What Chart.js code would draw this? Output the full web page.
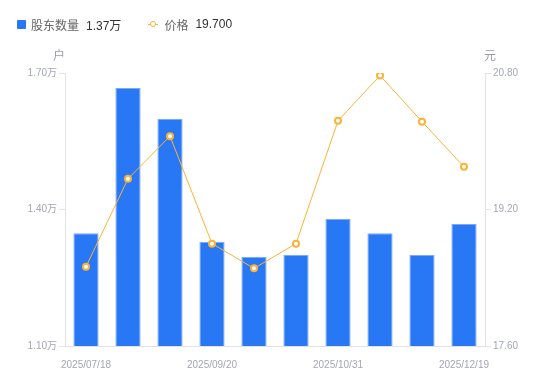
<!DOCTYPE html>
<html><head><meta charset="utf-8">
<script src="https://cdn.jsdelivr.net/npm/chart.js@4/dist/chart.umd.min.js"></script>
<style>
html,body{margin:0;padding:0;background:#fff;}
#wrap{position:relative;width:550px;height:381px;}
#legend{position:absolute;left:17px;top:16px;font:12px 'Liberation Sans','Noto Sans CJK SC',sans-serif;color:#666;display:flex;align-items:center;height:16px;}
.sq{display:inline-block;width:9px;height:9px;background:#2878f5;border-radius:1px;margin-right:5px;}
.val{color:#333;margin-left:7px;}
.li{display:inline-block;position:relative;width:10px;height:10px;margin-right:6px;}
.li:before{content:'';position:absolute;left:0;right:0;top:4.5px;height:1px;background:#fbb237;}
.li:after{content:'';position:absolute;left:2px;top:2px;width:4px;height:4px;border:1.5px solid #fbb237;border-radius:50%;background:#fff;}
</style></head>
<body><div id="wrap">
<canvas id="c" width="550" height="381"></canvas>
<div id="legend"><span class="sq"></span>股东数量<span class="val">1.37万</span><span style="width:27px;display:inline-block"></span><span class="li"></span>价格<span class="val">19.700</span></div>
</div>
<script>
const categories = ['2025/07/18','2025/07/31','2025/08/29','2025/09/20','2025/09/30','2025/10/20','2025/10/31','2025/11/10','2025/11/28','2025/12/19'];
const holders = [1.348,1.667,1.599,1.329,1.296,1.300,1.379,1.348,1.300,1.368];
const prices = [18.53,19.56,20.06,18.80,18.51,18.80,20.24,20.77,20.23,19.70];
const leftTicks = [1.10,1.40,1.70];
const rightTicks = [17.60,19.20,20.80];

const FONT = "'Liberation Sans','Noto Sans CJK SC',sans-serif";
const tickColor = '#a3a6b4';
const axisColor = '#e3e3e6';

const titles = {
  id:'titles',
  afterDraw(chart){
    const ctx = chart.ctx, a = chart.chartArea;
    ctx.save();
    ctx.font = '12px ' + FONT;
    ctx.fillStyle = '#9a9ca8';
    ctx.textBaseline = 'middle';
    ctx.textAlign = 'center';
    ctx.fillText('户', a.left - 6, 57);
    ctx.fillText('元', a.right + 5, 57);
    ctx.restore();
  }
};

new Chart(document.getElementById('c'), {
  data:{
    labels: categories,
    datasets:[
      {type:'line', label:'价格', data:prices, yAxisID:'y1', order:0,
       borderColor:'#fbb237', borderWidth:1, pointRadius:3, pointHoverRadius:3,
       pointBackgroundColor:'#fff', pointBorderColor:'#fbb237', pointBorderWidth:2, tension:0},
      {type:'bar', label:'股东数量', data:holders, yAxisID:'y', order:1,
       backgroundColor:'#2878f5', borderColor:'#7aaaf7', borderWidth:1,
       barPercentage:0.6, categoryPercentage:1}
    ]
  },
  options:{
    responsive:false, animation:false,
    layout:{padding:{left:0,right:0,top:73,bottom:0}},
    plugins:{legend:{display:false}, tooltip:{enabled:false}},
    scales:{
      x:{
        offset:true,
        grid:{display:false},
        border:{color:axisColor},
        ticks:{autoSkip:false, maxRotation:0, padding:5, color:tickColor, font:{family:FONT,size:10},
          callback:(v,i)=> i%3===0 ? categories[i] : ''},
        afterFit(s){ s.height = 35; }
      },
      y:{
        position:'left', min:1.1, max:1.7,
        afterBuildTicks(s){ s.ticks = leftTicks.map(v=>({value:v})); },
        grid:{drawOnChartArea:false, tickLength:6, color:axisColor},
        border:{color:axisColor},
        ticks:{padding:2, color:tickColor, font:{family:FONT,size:10}, callback:v=>Number(v).toFixed(2)+'万'},
        afterFit(s){ s.width = 65; }
      },
      y1:{
        position:'right', min:17.6, max:20.8,
        afterBuildTicks(s){ s.ticks = rightTicks.map(v=>({value:v})); },
        grid:{drawOnChartArea:false, tickLength:6, color:axisColor},
        border:{color:axisColor},
        ticks:{padding:2, color:tickColor, font:{family:FONT,size:10}, callback:v=>Number(v).toFixed(2)},
        afterFit(s){ s.width = 65; }
      }
    }
  },
  plugins:[titles]
});
</script>
</body></html>
